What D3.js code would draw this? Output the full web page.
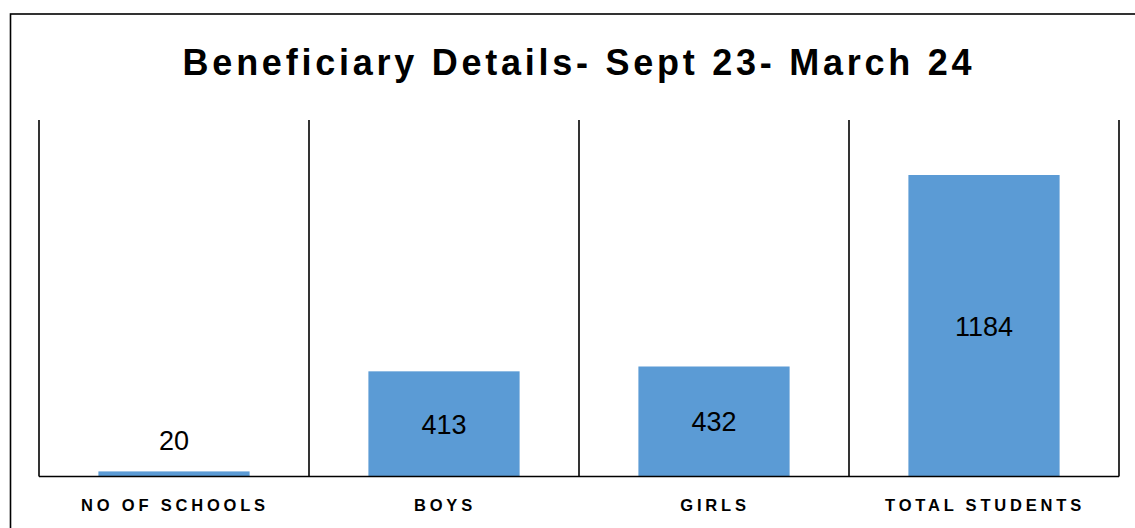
<!DOCTYPE html>
<meta charset="utf-8">
<title>Beneficiary Details</title>
<style>

body {
  margin: 0;
  background: #fff;
}

svg {
  display: block;
  font-family: "Liberation Sans", Arial, sans-serif;
}

.bar {
  fill: #5b9bd5;
}

.grid line,
.baseline {
  stroke: #000;
  stroke-width: 1.6px;
}

.title {
  font-size: 36px;
  font-weight: bold;
  letter-spacing: 3.75px;
}

.cat {
  font-size: 16.5px;
  font-weight: bold;
  letter-spacing: 3.8px;
}

.value {
  font-size: 27px;
}

</style>
<body>
<script src="https://d3js.org/d3.v7.min.js"></script>
<script>

var categories = ["NO OF SCHOOLS", "BOYS", "GIRLS", "TOTAL STUDENTS"];
var values = [20, 413, 432, 1184];
var yMax = 1400;

var width = 1135,
    height = 528;

var margin = {top: 120, right: 16, bottom: 51.5, left: 39},
    innerW = width - margin.left - margin.right,
    innerH = height - margin.top - margin.bottom;

var x = d3.scaleBand()
    .domain(categories)
    .range([0, innerW])
    .paddingInner(0.44)
    .paddingOuter(0.22);

var y = d3.scaleLinear()
    .domain([0, yMax])
    .range([innerH, 0]);

var svg = d3.select("body").append("svg")
    .attr("width", width)
    .attr("height", height);

// chart frame
svg.append("rect")
    .attr("x", 10.5)
    .attr("y", 14)
    .attr("width", width)
    .attr("height", height)
    .attr("fill", "none")
    .attr("stroke", "#000")
    .attr("stroke-width", 1.6);

svg.append("text")
    .attr("class", "title")
    .attr("x", 579)
    .attr("y", 75)
    .attr("text-anchor", "middle")
    .text("Beneficiary Details- Sept 23- March 24");

var g = svg.append("g")
    .attr("transform", "translate(" + margin.left + "," + margin.top + ")");

// category dividers
var step = x.step();
var bounds = d3.range(categories.length + 1).map(function(i) { return i * step; });

g.append("g")
    .attr("class", "grid")
  .selectAll("line")
  .data(bounds)
  .join("line")
    .attr("x1", function(d) { return d; })
    .attr("x2", function(d) { return d; })
    .attr("y1", 0)
    .attr("y2", innerH);

g.selectAll(".bar")
  .data(values)
  .join("rect")
    .attr("class", "bar")
    .attr("x", function(d, i) { return x(categories[i]); })
    .attr("width", x.bandwidth())
    .attr("y", function(d) { return y(d); })
    .attr("height", function(d) { return innerH - y(d); });

g.append("line")
    .attr("class", "baseline")
    .attr("x1", 0)
    .attr("x2", innerW)
    .attr("y1", innerH)
    .attr("y2", innerH);

// value labels: centred in the bar, or above it when the bar is too short
g.selectAll(".value")
  .data(values)
  .join("text")
    .attr("class", "value")
    .attr("text-anchor", "middle")
    .attr("x", function(d, i) { return x(categories[i]) + x.bandwidth() / 2; })
    .attr("y", function(d) {
      var h = innerH - y(d);
      return h < 40 ? y(d) - 21 : y(d) + h / 2 + 10;
    })
    .text(function(d) { return d; });

g.selectAll(".cat")
  .data(categories)
  .join("text")
    .attr("class", "cat")
    .attr("text-anchor", "middle")
    .attr("x", function(d) { return x(d) + x.bandwidth() / 2 + 1; })
    .attr("y", innerH + 34)
    .text(function(d) { return d; });

</script>
</body>
